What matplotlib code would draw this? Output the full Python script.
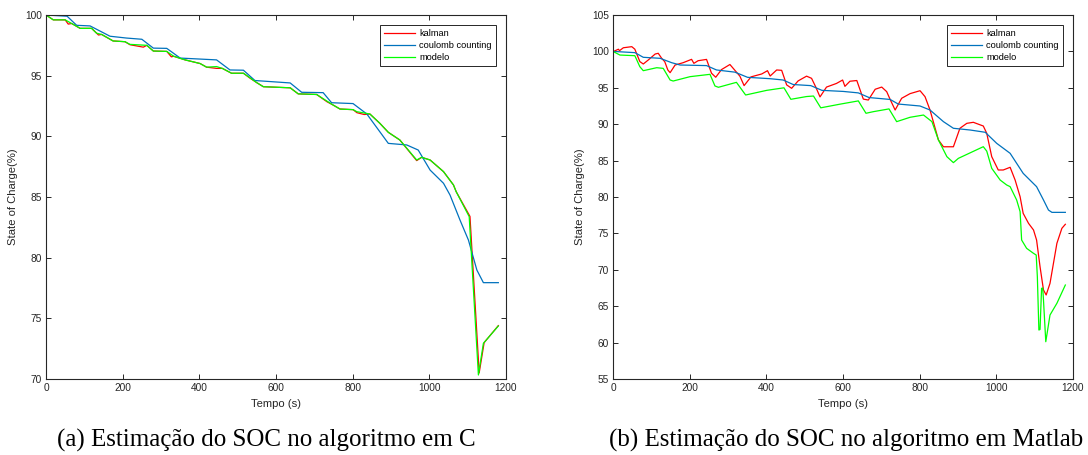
import matplotlib.pyplot as plt
import numpy as np

# (a) algoritmo em C
c_kalman_t = [0, 19, 50, 58, 67, 89, 119, 132, 137, 145, 175, 206, 219, 254, 263, 280, 315,
              327, 333, 363, 402, 419, 445, 460, 484, 515, 532, 550, 567, 637, 658, 706, 733,
              749, 767, 801, 811, 830, 845, 871, 893, 923, 967, 980, 1002, 1037, 1063, 1070,
              1106, 1130, 1143, 1180]
c_kalman_v = [100, 99.6, 99.6, 99.25, 99.3, 98.9, 98.9, 98.5, 98.35, 98.4, 97.86, 97.8, 97.55,
              97.35, 97.5, 97.03, 97.0, 96.55, 96.6, 96.3, 96.0, 95.7, 95.6, 95.6, 95.2, 95.2,
              94.8, 94.42, 94.09, 94.0, 93.5, 93.45, 92.85, 92.58, 92.25, 92.2, 91.95, 91.8,
              91.84, 91.07, 90.33, 89.7, 88.0, 88.27, 88.05, 87.09, 85.99, 85.44, 83.4, 70.5,
              73.0, 74.4]
c_coulomb_t = [0, 55, 80, 115, 167, 210, 250, 280, 315, 350, 445, 480, 515, 545, 637, 667, 723,
               745, 801, 837, 893, 941, 971, 1002, 1037, 1054, 1080, 1102, 1124, 1141, 1180]
c_coulomb_v = [100, 99.9, 99.15, 99.1, 98.25, 98.1, 98.0, 97.27, 97.25, 96.45, 96.3, 95.47,
               95.45, 94.6, 94.4, 93.63, 93.6, 92.77, 92.7, 91.84, 89.42, 89.29, 88.87, 87.22,
               86.13, 85.16, 83.1, 81.45, 78.98, 77.94, 77.94]
c_modelo_t = [0, 19, 50, 67, 89, 119, 132, 145, 175, 206, 219, 263, 280, 315, 333, 363, 402,
              419, 445, 460, 484, 515, 532, 550, 567, 637, 658, 706, 733, 749, 767, 801, 811,
              845, 871, 893, 923, 967, 980, 1002, 1037, 1063, 1070, 1104, 1128, 1141, 1180]
c_modelo_v = [100, 99.6, 99.6, 99.3, 98.9, 98.9, 98.5, 98.4, 97.86, 97.8, 97.58, 97.5, 97.03,
              97.0, 96.6, 96.3, 96.0, 95.7, 95.75, 95.6, 95.2, 95.2, 94.83, 94.42, 94.09, 94.0,
              93.5, 93.45, 92.9, 92.58, 92.25, 92.2, 92.03, 91.84, 91.07, 90.33, 89.7, 88.05,
              88.27, 88.05, 87.09, 85.99, 85.44, 83.38, 70.33, 72.94, 74.37]

# (b) algoritmo em Matlab
m_kalman_t = [0, 14, 17, 27, 49, 57, 70, 79, 92, 110, 118, 127, 135, 143, 149, 162, 183, 205,
              211, 222, 244, 257, 268, 283, 305, 331, 342, 360, 388, 403, 410, 427, 440, 453,
              466, 483, 505, 518, 529, 540, 557, 583, 599, 605, 618, 636, 653, 666, 684, 701,
              714, 723, 736, 753, 775, 801, 814, 827, 849, 862, 888, 905, 923, 940, 966, 975,
              988, 1005, 1018, 1036, 1049, 1062, 1070, 1084, 1097, 1105, 1114, 1123, 1130,
              1140, 1149, 1158, 1171, 1180]
m_kalman_v = [99.96, 100.3, 100.1, 100.5, 100.65, 100.3, 98.6, 98.27, 98.82, 99.64, 99.74,
              99.05, 98.59, 97.45, 97.08, 98.13, 98.45, 98.91, 98.36, 98.72, 98.9, 97.0, 96.45,
              97.5, 98.2, 96.6, 95.3, 96.5, 96.9, 97.35, 96.62, 97.45, 97.4, 95.4, 94.93, 95.95,
              96.6, 96.3, 95.1, 93.75, 95.1, 95.6, 96.07, 95.2, 95.9, 96.0, 93.45, 93.32, 94.8,
              95.1, 94.47, 93.4, 91.95, 93.56, 94.2, 94.6, 93.78, 91.95, 87.83, 86.9, 86.9,
              89.44, 90.12, 90.26, 89.75, 88.75, 85.54, 83.71, 83.71, 84.08, 82.33, 80.04,
              77.76, 76.38, 75.47, 74.09, 70.43, 67.23, 66.54, 68.14, 70.89, 73.64, 75.7, 76.25]
m_coulomb_t = [0, 57, 79, 123, 153, 175, 244, 270, 318, 351, 410, 444, 470, 516, 545, 601,
               640, 668, 723, 744, 801, 827, 862, 888, 932, 971, 1001, 1036, 1070, 1105, 1123,
               1136, 1145, 1180]
m_coulomb_v = [100, 99.83, 99.19, 99.05, 98.45, 98.13, 98.05, 97.45, 97.15, 96.44, 96.25,
               96.07, 95.45, 95.3, 94.65, 94.5, 94.3, 93.66, 93.4, 92.77, 92.5, 91.95, 90.35,
               89.44, 89.2, 88.89, 87.37, 86.0, 83.25, 81.42, 79.59, 78.21, 77.89, 77.89]
m_modelo_t = [0, 18, 57, 70, 79, 114, 131, 149, 157, 201, 253, 266, 275, 322, 346, 401, 446,
              464, 505, 523, 542, 592, 640, 660, 679, 720, 740, 775, 810, 832, 849, 871, 888,
              901, 966, 975, 988, 1010, 1027, 1036, 1053, 1062, 1066, 1079, 1097, 1104, 1107,
              1111, 1114, 1118, 1121, 1123, 1129, 1140, 1158, 1180]
m_modelo_v = [100, 99.5, 99.41, 97.9, 97.35, 97.76, 97.67, 96.07, 95.93, 96.53, 96.85, 95.25,
              95.07, 95.75, 94.01, 94.65, 95.0, 93.42, 93.8, 93.87, 92.25, 92.75, 93.2, 91.5,
              91.72, 92.1, 90.35, 90.95, 91.26, 90.35, 87.83, 85.54, 84.72, 85.31, 86.91, 86.3,
              83.94, 82.33, 81.65, 81.42, 79.59, 77.99, 74.09, 72.95, 72.26, 72.03, 69.06,
              61.73, 61.8, 67.45, 67.5, 65.85, 60.12, 63.79, 65.4, 67.91]

series_names = ["kalman", "coulomb counting", "modelo"]
series_colors = ["#ff0000", "#0072bd", "#00ff00"]
captions = ["(a) Estimação do SOC no algoritmo em C", "(b) Estimação do SOC no algoritmo em Matlab"]

plt.rcParams["font.family"] = ["Liberation Sans", "DejaVu Sans"]
ink = "#262626"

fig = plt.figure(figsize=(10.88, 4.55), dpi=100)
ax_c = fig.add_axes([46 / 1088, 1 - 379 / 455, 460 / 1088, 364 / 455])
ax_m = fig.add_axes([613 / 1088, 1 - 379 / 455, 460 / 1088, 364 / 455])

panels = [
    (ax_c, [(c_kalman_t, c_kalman_v), (c_coulomb_t, c_coulomb_v), (c_modelo_t, c_modelo_v)], (70, 100)),
    (ax_m, [(m_kalman_t, m_kalman_v), (m_coulomb_t, m_coulomb_v), (m_modelo_t, m_modelo_v)], (55, 105)),
]

for ax, curves, ylim in panels:
    for (t, v), name, color in zip(curves, series_names, series_colors):
        ax.plot(t, v, color=color, lw=0.9, label=name)
    ax.set_xlim(0, 1200)
    ax.set_ylim(*ylim)
    ax.set_xticks(np.arange(0, 1201, 200))
    ax.set_yticks(np.arange(ylim[0], ylim[1] + 1, 5))
    ax.tick_params(direction="in", top=True, right=True, length=3.5, width=0.7,
                   labelsize=7.3, colors=ink, pad=3)
    for s in ax.spines.values():
        s.set_color(ink)
        s.set_linewidth(0.8)
    ax.set_xlabel("Tempo (s)", fontsize=8.1, color=ink, labelpad=4)
    ax.set_ylabel("State of Charge(%)", fontsize=8.1, color=ink, labelpad=5)
    leg = ax.legend(loc="upper right", bbox_to_anchor=(0.978, 0.9725), fontsize=6.7,
                    fancybox=False, framealpha=1, edgecolor=ink, handlelength=3.3,
                    handletextpad=0.45, borderpad=0.45, labelspacing=0.3, borderaxespad=0)
    leg.get_frame().set_linewidth(0.7)

for x, text in zip([266 / 1088, 846 / 1088], captions):
    fig.text(x, 8 / 455, text, ha="center", va="baseline", fontsize=18,
             family=["Liberation Serif"], color="black")

fig.savefig("out.png", dpi=100)
